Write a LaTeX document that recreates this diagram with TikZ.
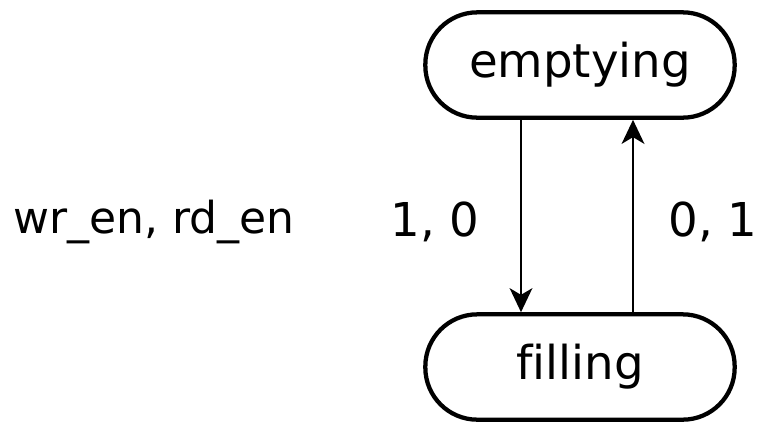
\documentclass[tikz,border=0pt]{standalone}
\usepackage{fontspec}
\setmainfont[Ligatures=NoCommon]{DejaVu Sans}
\usetikzlibrary{arrows.meta}
\begin{document}
\begin{tikzpicture}[x=0.75pt,y=-0.75pt,
  state/.style={draw, line width=3.2pt, rounded corners=39pt,
    minimum width=232pt, minimum height=79pt, inner sep=0pt,
    font=\fontsize{35}{40}\selectfont},
  trans/.style={line width=2pt, -{Stealth[length=18pt,width=17pt,inset=5pt]}},
  lbl/.style={font=\fontsize{35}{40}\selectfont, inner sep=0pt}]
\useasboundingbox (0,0) rectangle (763,430);
\node[state] (empty) at (580,65) {emptying};
\node[state] (fill) at (580,367) {filling};
\draw[trans] (empty.south -| 521,0) -- (fill.north -| 521,0);
\draw[trans] (fill.north -| 633,0) -- (empty.south -| 633,0);
\node[lbl] (down) at (435,222) {1, 0};
\node[lbl] (up) at (713,222) {0, 1};
\node[lbl, font=\fontsize{33}{38}\selectfont] (sig) at (154,222) {wr\_en, rd\_en};
\end{tikzpicture}
\end{document}
